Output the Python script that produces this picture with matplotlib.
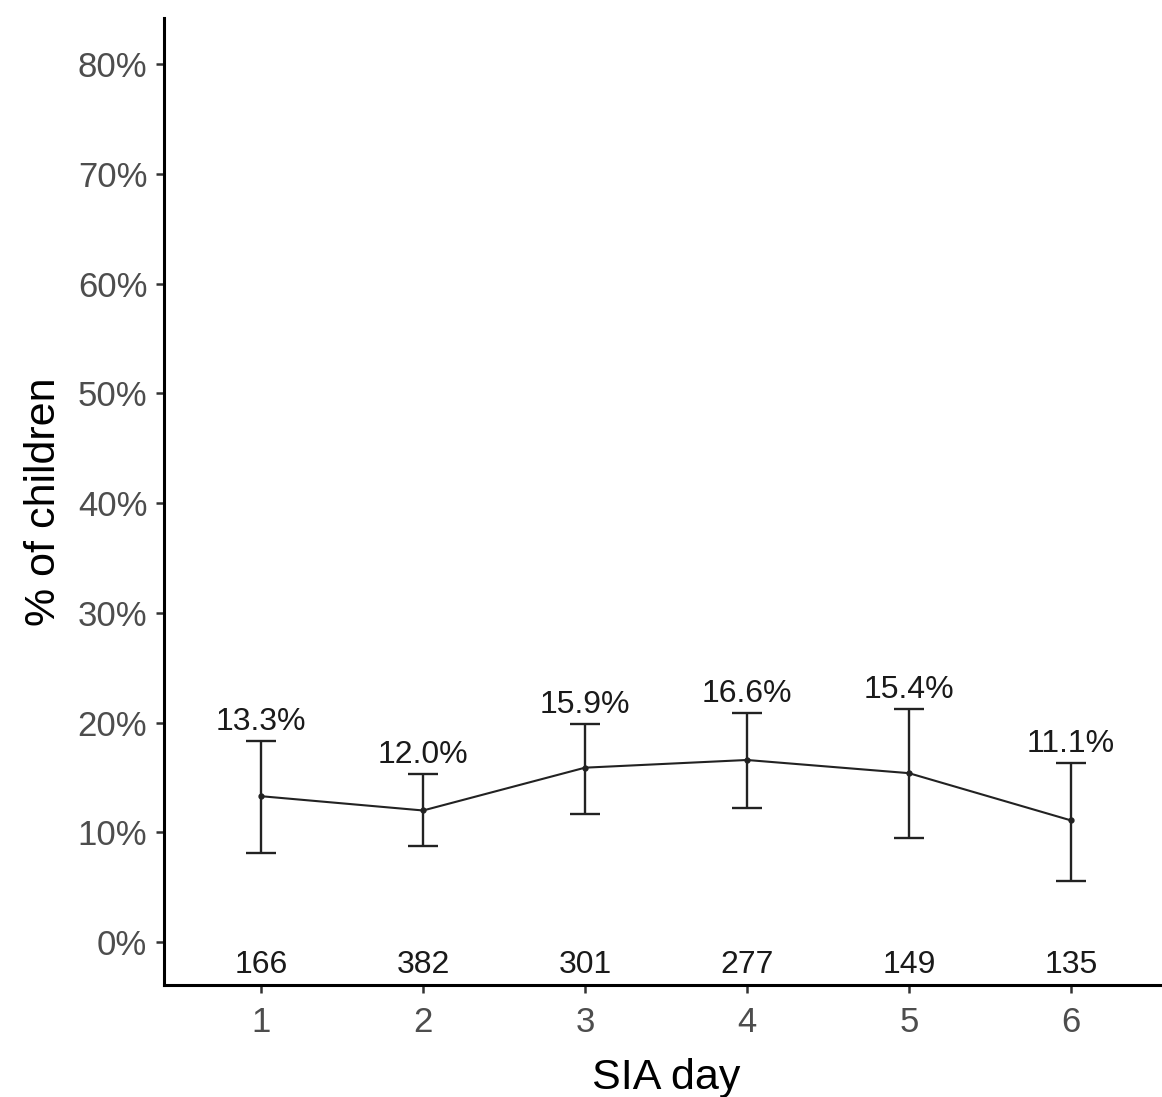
import matplotlib
matplotlib.use("Agg")
import matplotlib.pyplot as plt
from matplotlib.ticker import FuncFormatter

days = [1, 2, 3, 4, 5, 6]
pct = [13.3, 12.0, 15.9, 16.6, 15.4, 11.1]
upper = [18.3, 15.3, 19.9, 20.9, 21.2, 16.3]
lower = [8.1, 8.8, 11.7, 12.2, 9.5, 5.6]
n_children = [166, 382, 301, 277, 149, 135]
yticks = [0, 10, 20, 30, 40, 50, 60, 70, 80]

plt.rcParams['font.family'] = ['Liberation Sans', 'DejaVu Sans']

W, H = 1162, 1097
fig = plt.figure(figsize=(W / 100, H / 100), dpi=100)
left_px, right_px, top_px, bottom_px = 164, 1168, 18, 985
ax = fig.add_axes([left_px / W, 1 - bottom_px / H, (right_px - left_px) / W, (bottom_px - top_px) / H])

yerr = [[p - l for p, l in zip(pct, lower)], [u - p for p, u in zip(pct, upper)]]
ax.errorbar(days, pct, yerr=yerr, color='#222222', lw=1.5, elinewidth=1.7,
            capsize=11, capthick=1.7, marker='o', markersize=3.5, zorder=3)

for d, p, u, n in zip(days, pct, upper, n_children):
    ax.annotate(f"{p:.1f}%", (d, u), xytext=(0, 3), textcoords='offset points',
                ha='center', va='bottom', fontsize=23, color='#1a1a1a')
    ax.text(d, -2.1, str(n), ha='center', va='center', fontsize=23, color='#1a1a1a')

ax.set_xlim(0.4, 6.6)
ax.set_ylim(-3.9, 84.2)
ax.set_xticks(days)
ax.set_yticks(yticks)
ax.yaxis.set_major_formatter(FuncFormatter(lambda v, _: f"{v:.0f}%"))

for s in ['top', 'right']:
    ax.spines[s].set_visible(False)
for s in ['left', 'bottom']:
    ax.spines[s].set_linewidth(2.2)
    ax.spines[s].set_color('black')

ax.tick_params(axis='both', length=6, width=1.8, color='#333333',
               labelsize=25, labelcolor='#4d4d4d', pad=6)
ax.tick_params(axis='x', pad=9)

ax.set_xlabel("SIA day", fontsize=31, color='black', labelpad=14)
ax.set_ylabel("% of children", fontsize=31, color='black', labelpad=10)

fig.savefig("out.png", dpi=100)
